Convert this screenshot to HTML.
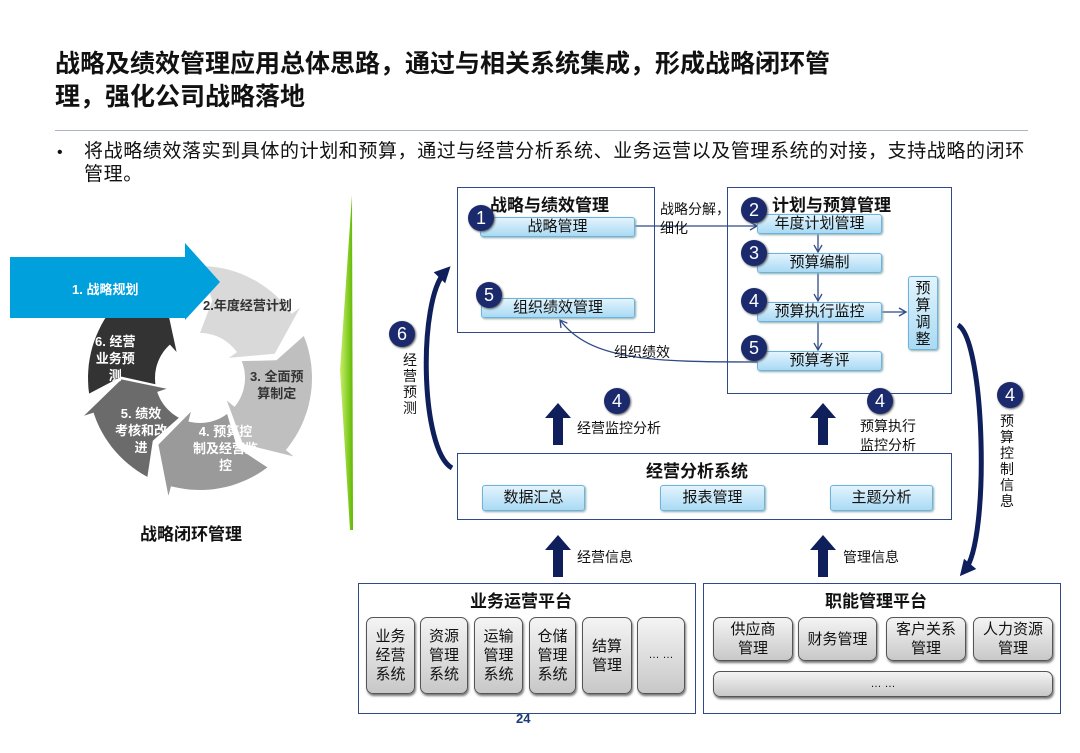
<!DOCTYPE html>
<html><head><meta charset="utf-8"><style>
body{margin:0;width:1080px;height:753px;background:#fff;position:relative;overflow:hidden;font-family:"Liberation Sans","Noto Sans CJK SC",sans-serif;color:#111}
.a{position:absolute;white-space:nowrap}
.b{position:absolute;border:1.5px solid #2f4a86;box-sizing:border-box}
.it{position:absolute;box-sizing:border-box;border:1px solid #6fb3dc;border-radius:3px;background:linear-gradient(#e3f4fd,#a9daf4);text-align:center;font-size:15px;line-height:18px;box-shadow:1px 1px 2px #8aa}
.c{position:absolute;width:26px;height:26px;border-radius:50%;background:#1a2a6c;color:#fff;font-size:18px;line-height:26px;text-align:center;box-shadow:1px 1px 2px #555}
.g{position:absolute;box-sizing:border-box;border:1.5px solid #555;border-radius:7px;background:linear-gradient(#f4f4f4,#c8c8c8);font-size:15px;line-height:19px;text-align:center;display:flex;align-items:center;justify-content:center;box-shadow:1px 2px 2px #777}
.t{font-weight:bold;font-size:17px}
.v{position:absolute;font-size:14px;line-height:16px;width:16px;text-align:center;white-space:normal}
</style></head><body>
<div class="a" style="left:55px;top:48px;font-size:25px;font-weight:bold;line-height:33px">战略及绩效管理应用总体思路，通过与相关系统集成，形成战略闭环管<br>理，强化公司战略落地</div>
<div class="a" style="left:55px;top:130px;width:973px;height:1px;background:#a9b4c8"></div>
<div class="a" style="left:57px;top:141px;font-size:16px;line-height:23px">•</div>
<div class="a" style="left:84px;top:140px;font-size:19px;line-height:23px;letter-spacing:0.6px">将战略绩效落实到具体的计划和预算，通过与经营分析系统、业务运营以及管理系统的对接，支持战略的闭环<br>管理。</div>

<svg class="a" style="left:0;top:0" width="1080" height="753">
<defs>
<linearGradient id="gr" x1="0" x2="1"><stop offset="0" stop-color="#c8ef6a"/><stop offset="1" stop-color="#5fb800"/></linearGradient>
<marker id="m" markerWidth="10" markerHeight="10" refX="8" refY="5" orient="auto" markerUnits="userSpaceOnUse"><path d="M1,1 L8,5 L1,9" fill="none" stroke="#2f4a86" stroke-width="1.3"/></marker>
<marker id="mb" markerWidth="20" markerHeight="20" refX="10" refY="10" orient="auto" markerUnits="userSpaceOnUse"><path d="M2,2 L18,10 L2,18 Z" fill="#0e1f5c"/></marker>
</defs>
<polygon points="352,195 340,370 350,530 353,530" fill="url(#gr)"/>
<g id="cyc"></g>
<polygon points="10,257 185,257 185,243 220,282 185,320 185,318 10,318" fill="#00a0dc"/>
<path d="M635,226 L757,226" stroke="#2f4a86" stroke-width="1.3" fill="none" marker-end="url(#m)"/>
<path d="M818,234 L818,252" stroke="#2f4a86" stroke-width="1.3" marker-end="url(#m)"/>
<path d="M818,273 L818,301" stroke="#2f4a86" stroke-width="1.3" marker-end="url(#m)"/>
<path d="M818,322 L818,350" stroke="#2f4a86" stroke-width="1.3" marker-end="url(#m)"/>
<path d="M882,312 L906,312" stroke="#2f4a86" stroke-width="1.3" marker-end="url(#m)"/>
<path d="M757,362 C650,362 590,360 560,320" stroke="#2f4a86" stroke-width="1.3" fill="none" marker-end="url(#m)"/>
<g fill="#0e1f5c">
<polygon points="553,445 563,445 563,418 571,418 558,403 545,418 553,418"/>
<polygon points="818,445 828,445 828,418 836,418 823,403 810,418 818,418"/>
<polygon points="553,577 563,577 563,550 571,550 558,535 545,550 553,550"/>
<polygon points="818,577 828,577 828,550 836,550 823,535 810,550 818,550"/>
</g>
<path d="M452,468 C420,450 418,300 445,272" stroke="#0e1f5c" stroke-width="5" fill="none" marker-end="url(#mb)"/>
<path d="M958,325 C985,340 990,540 965,570" stroke="#0e1f5c" stroke-width="5" fill="none" marker-end="url(#mb)"/>
</svg>

<div class="a" style="left:72px;top:279px;color:#fff;font-weight:bold;font-size:13px">1. 战略规划</div>
<div class="a" style="left:203px;top:295px;color:#333;font-weight:bold;font-size:13px">2.年度经营计划</div>
<div class="a" style="left:250px;top:368px;color:#333;font-weight:bold;font-size:13px;line-height:17px;text-align:center">3. 全面预<br>算制定</div>
<div class="a" style="left:193px;top:423px;color:#fff;font-weight:bold;font-size:13px;line-height:17px;text-align:center">4. 预算控<br>制及经营监<br>控</div>
<div class="a" style="left:115px;top:405px;color:#fff;font-weight:bold;font-size:13px;line-height:17px;text-align:center">5. 绩效<br>考核和改<br>进</div>
<div class="a" style="left:95px;top:333px;color:#fff;font-weight:bold;font-size:13px;line-height:17px;text-align:center">6. 经营<br>业务预<br>测</div>
<div class="a" style="left:140px;top:520px;font-weight:bold;font-size:17px">战略闭环管理</div>

<div class="b" style="left:457px;top:187px;width:198px;height:146px"></div>
<div class="a t" style="left:490px;top:191px">战略与绩效管理</div>
<div class="it" style="left:480px;top:217px;width:155px;height:20px">战略管理</div>
<div class="it" style="left:481px;top:298px;width:154px;height:20px">组织绩效管理</div>
<div class="c" style="left:468px;top:205px">1</div>
<div class="c" style="left:476px;top:282px">5</div>
<div class="a" style="left:660px;top:200px;font-size:14px;line-height:19px">战略分解，<br>细化</div>
<div class="a" style="left:614px;top:342px;font-size:14px">组织绩效</div>

<div class="b" style="left:727px;top:187px;width:225px;height:207px"></div>
<div class="a t" style="left:772px;top:191px">计划与预算管理</div>
<div class="it" style="left:757px;top:214px;width:125px;height:20px">年度计划管理</div>
<div class="it" style="left:757px;top:253px;width:125px;height:20px">预算编制</div>
<div class="it" style="left:757px;top:302px;width:125px;height:20px">预算执行监控</div>
<div class="it" style="left:757px;top:351px;width:125px;height:20px">预算考评</div>
<div class="it" style="left:908px;top:276px;width:30px;height:74px;line-height:17px;padding-top:3px;white-space:normal">预算调整</div>
<div class="c" style="left:741px;top:197px">2</div>
<div class="c" style="left:741px;top:240px">3</div>
<div class="c" style="left:741px;top:288px">4</div>
<div class="c" style="left:741px;top:335px">5</div>

<div class="c" style="left:604px;top:388px">4</div>
<div class="a" style="left:577px;top:418px;font-size:14px">经营监控分析</div>
<div class="c" style="left:867px;top:388px">4</div>
<div class="a" style="left:860px;top:417px;font-size:14px;line-height:19px">预算执行<br>监控分析</div>
<div class="c" style="left:389px;top:321px">6</div>
<div class="v" style="left:402px;top:352px">经营预测</div>
<div class="c" style="left:997px;top:382px">4</div>
<div class="v" style="left:999px;top:413px">预算控制信息</div>

<div class="b" style="left:457px;top:453px;width:495px;height:67px"></div>
<div class="a t" style="left:646px;top:457px">经营分析系统</div>
<div class="it" style="left:482px;top:485px;width:103px;height:26px;line-height:24px">数据汇总</div>
<div class="it" style="left:660px;top:485px;width:105px;height:26px;line-height:24px">报表管理</div>
<div class="it" style="left:830px;top:485px;width:103px;height:26px;line-height:24px">主题分析</div>
<div class="a" style="left:577px;top:547px;font-size:14px">经营信息</div>
<div class="a" style="left:843px;top:547px;font-size:14px">管理信息</div>

<div class="b" style="left:358px;top:583px;width:338px;height:131px"></div>
<div class="a t" style="left:470px;top:587px">业务运营平台</div>
<div class="g" style="left:366px;top:617px;width:49px;height:77px">业务<br>经营<br>系统</div>
<div class="g" style="left:420px;top:617px;width:48px;height:77px">资源<br>管理<br>系统</div>
<div class="g" style="left:474px;top:617px;width:49px;height:77px">运输<br>管理<br>系统</div>
<div class="g" style="left:529px;top:617px;width:47px;height:77px">仓储<br>管理<br>系统</div>
<div class="g" style="left:582px;top:617px;width:50px;height:77px">结算<br>管理</div>
<div class="g" style="left:637px;top:617px;width:48px;height:77px;font-size:11px">… …</div>

<div class="b" style="left:703px;top:583px;width:358px;height:131px"></div>
<div class="a t" style="left:825px;top:587px">职能管理平台</div>
<div class="g" style="left:713px;top:617px;width:80px;height:44px">供应商<br>管理</div>
<div class="g" style="left:798px;top:617px;width:79px;height:44px">财务管理</div>
<div class="g" style="left:886px;top:617px;width:80px;height:44px">客户关系<br>管理</div>
<div class="g" style="left:973px;top:617px;width:80px;height:44px">人力资源<br>管理</div>
<div class="g" style="left:713px;top:671px;width:340px;height:26px;font-size:11px">… …</div>
<div class="a" style="left:516px;top:711px;color:#1a3a7c;font-weight:bold;font-size:13px">24</div>

<script>
var cx=200,cy=378,R=112,r=45,g=document.getElementById('cyc');
function P(a,d){a=a*Math.PI/180;return (cx+d*Math.sin(a)).toFixed(1)+','+(cy-d*Math.cos(a)).toFixed(1);}
function seg(a0,a1,col){var pts=[],m=(R+r)/2;
for(var a=a0;a<a1;a+=3)pts.push(P(a,R));pts.push(P(a1,R));
pts.push(P(a1,R+10));pts.push(P(a1+17,m));pts.push(P(a1,r-10));
for(var a=a1;a>a0;a-=3)pts.push(P(a,r));pts.push(P(a0,r));pts.push(P(a0+9,m));
var p=document.createElementNS('http://www.w3.org/2000/svg','polygon');p.setAttribute('points',pts.join(' '));p.setAttribute('fill',col);g.appendChild(p);}
seg(0,55,'#d9d9d9');seg(68,130,'#bfbfbf');seg(143,195,'#9a9a9a');seg(208,252,'#6b6b6b');seg(262,318,'#333');
</script>
</body></html>
